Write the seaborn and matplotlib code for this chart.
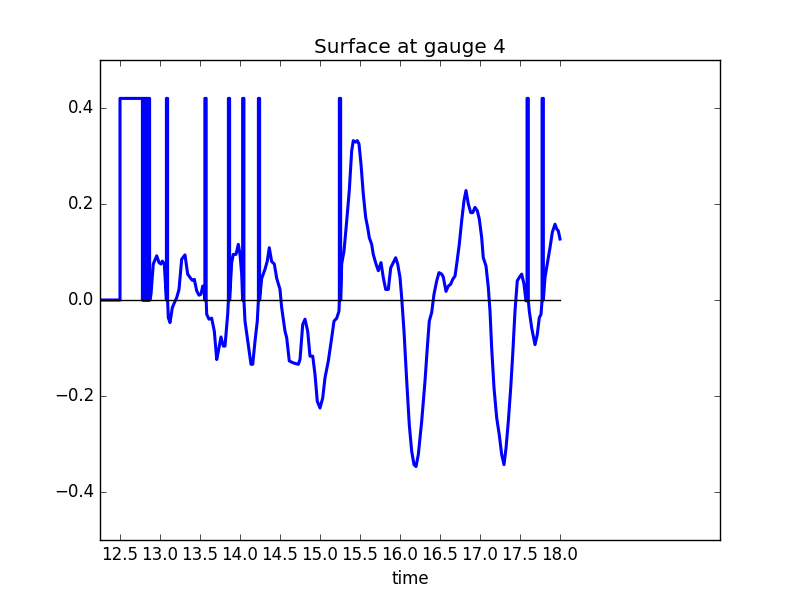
#!/usr/bin/env python

import numpy as np
import matplotlib
matplotlib.use('Agg')
import matplotlib.pyplot as plt
import seaborn as sns

# gauge 4 surface (spikes = the 0.42 dry value)
time = [12.2, 12.5, 12.5, 12.775,
        12.78, 12.78, 12.7875, 12.7875, 12.795, 12.795, 12.8025, 12.8025,
        12.81, 12.81, 12.8175, 12.8175, 12.825, 12.825, 12.8325, 12.8325,
        12.84, 12.84, 12.8475, 12.8475, 12.855, 12.855, 12.8625, 12.8625,
        12.87, 12.87, 12.875,
        12.8875, 12.916, 12.959, 12.9875, 13.0125, 13.029, 13.054,
        13.08, 13.08, 13.095, 13.095,
        13.104, 13.125, 13.154, 13.179, 13.209, 13.2375, 13.271, 13.3125,
        13.346, 13.375, 13.404, 13.429, 13.459, 13.4875, 13.5125, 13.534, 13.554,
        13.561, 13.561, 13.577, 13.577,
        13.584, 13.6125, 13.646, 13.679, 13.709, 13.729, 13.7625, 13.791,
        13.8125, 13.846,
        13.855, 13.855, 13.870, 13.870,
        13.896, 13.916, 13.95, 13.979, 14.0, 14.021,
        14.033, 14.033, 14.049, 14.049,
        14.0625, 14.104, 14.1375, 14.159, 14.1875, 14.216,
        14.23, 14.23, 14.245, 14.245,
        14.271, 14.3125, 14.341, 14.366, 14.396, 14.429, 14.459, 14.5,
        14.521, 14.5625, 14.584, 14.616, 14.666, 14.729, 14.75, 14.784,
        14.8125, 14.846, 14.875, 14.909, 14.9375, 14.966, 15.0, 15.034,
        15.0625, 15.104, 15.146, 15.175, 15.209, 15.2375,
        15.242, 15.242, 15.258, 15.258,
        15.271, 15.3, 15.334, 15.366, 15.396, 15.416, 15.446, 15.466,
        15.4875, 15.5125, 15.541, 15.571, 15.596, 15.616, 15.646, 15.666,
        15.7, 15.729, 15.7625, 15.791, 15.821, 15.854, 15.884, 15.916,
        15.946, 15.971, 16.0, 16.021, 16.05, 16.084, 16.116, 16.146,
        16.175, 16.2, 16.229, 16.271, 16.3125, 16.341, 16.366, 16.396,
        16.425, 16.459, 16.4875, 16.521, 16.541, 16.575, 16.604, 16.634,
        16.659, 16.6875, 16.709, 16.741, 16.771, 16.8, 16.825, 16.854,
        16.884, 16.909, 16.9375, 16.966, 16.991, 17.021, 17.041, 17.075,
        17.104, 17.125, 17.146, 17.175, 17.209, 17.241, 17.271, 17.3,
        17.325, 17.354, 17.384, 17.409, 17.4375, 17.466, 17.491, 17.521,
        17.55, 17.575,
        17.588, 17.588, 17.604, 17.604,
        17.616, 17.646, 17.6875, 17.716, 17.741, 17.7625,
        17.776, 17.776, 17.792, 17.792,
        17.8125, 17.841, 17.875, 17.904, 17.9375, 17.959, 17.979, 18.0]

surface = [0.0, 0.0, 0.42, 0.42,
           0.42, 0.0, 0.0, 0.42, 0.42, 0.0, 0.0, 0.42,
           0.42, 0.0, 0.0, 0.42, 0.42, 0.0, 0.0, 0.42,
           0.42, 0.0, 0.0, 0.42, 0.42, 0.0, 0.0, 0.42,
           0.42, 0.0, 0.0,
           0.012, 0.075, 0.092, 0.078, 0.075, 0.081, 0.075,
           0.0, 0.42, 0.42, 0.0,
           -0.037, -0.047, -0.016, -0.006, 0.005, 0.022, 0.085, 0.094,
           0.054, 0.047, 0.041, 0.043, 0.019, 0.010, 0.012, 0.029, 0.022,
           0.0, 0.42, 0.42, 0.0,
           -0.030, -0.040, -0.038, -0.065, -0.124, -0.107, -0.077, -0.096,
           -0.096, -0.030,
           0.0, 0.42, 0.42, 0.0,
           0.078, 0.095, 0.095, 0.116, 0.095, 0.054,
           0.0, 0.42, 0.42, 0.0,
           -0.044, -0.093, -0.134, -0.134, -0.086, -0.044,
           0.0, 0.42, 0.42, 0.0,
           0.045, 0.064, 0.081, 0.109, 0.080, 0.075, 0.045, 0.022,
           -0.016, -0.065, -0.079, -0.127, -0.131, -0.134, -0.124, -0.051,
           -0.040, -0.065, -0.117, -0.117, -0.155, -0.211, -0.225, -0.204,
           -0.162, -0.127, -0.079, -0.044, -0.038, -0.023,
           0.0, 0.42, 0.42, 0.0,
           0.075, 0.102, 0.165, 0.228, 0.311, 0.332, 0.329, 0.332,
           0.325, 0.283, 0.221, 0.172, 0.151, 0.130, 0.116, 0.095,
           0.075, 0.061, 0.078, 0.047, 0.022, 0.022, 0.067, 0.078,
           0.088, 0.075, 0.047, 0.005, -0.065, -0.169, -0.260, -0.315,
           -0.343, -0.347, -0.322, -0.253, -0.169, -0.100, -0.044, -0.026,
           0.012, 0.040, 0.057, 0.054, 0.048, 0.018, 0.029, 0.033,
           0.043, 0.050, 0.075, 0.116, 0.165, 0.207, 0.228, 0.200,
           0.182, 0.182, 0.193, 0.186, 0.169, 0.130, 0.088, 0.071,
           0.026, -0.023, -0.100, -0.183, -0.246, -0.281, -0.322, -0.343,
           -0.309, -0.253, -0.183, -0.113, -0.023, 0.040, 0.047, 0.054,
           0.033, -0.002,
           0.0, 0.42, 0.42, 0.0,
           -0.023, -0.058, -0.093, -0.072, -0.037, -0.030,
           0.0, 0.42, 0.42, 0.0,
           0.047, 0.075, 0.109, 0.141, 0.158, 0.148, 0.144, 0.127]

zero_t = [12.2, 18.0]
zero_s = [0.0, 0.0]

xticks = [12.5, 13.0, 13.5, 14.0, 14.5, 15.0, 15.5, 16.0, 16.5, 17.0, 17.5, 18.0]
yticks = [-0.4, -0.2, 0.0, 0.2, 0.4]


def make_plot():
    plt.style.use('classic')
    fig, ax = plt.subplots(figsize=(8, 6), dpi=100)
    fig.patch.set_facecolor('white')

    sns.lineplot(x=time, y=surface, ax=ax, estimator=None, sort=False,
                 color='b', linewidth=2.2)
    sns.lineplot(x=zero_t, y=zero_s, ax=ax, estimator=None, sort=False,
                 color='k', linewidth=1)

    ax.set_xlim(12.25, 20.0)
    ax.set_ylim(-0.5, 0.5)
    ax.set_xticks(xticks)
    ax.set_xticklabels(['%.1f' % v for v in xticks])
    ax.set_yticks(yticks)
    ax.set_title('Surface at gauge 4')
    ax.set_xlabel('time')
    ax.set_ylabel('')

    fig.savefig('out.png', dpi=100, facecolor='white')


if __name__ == "__main__":
    make_plot()
